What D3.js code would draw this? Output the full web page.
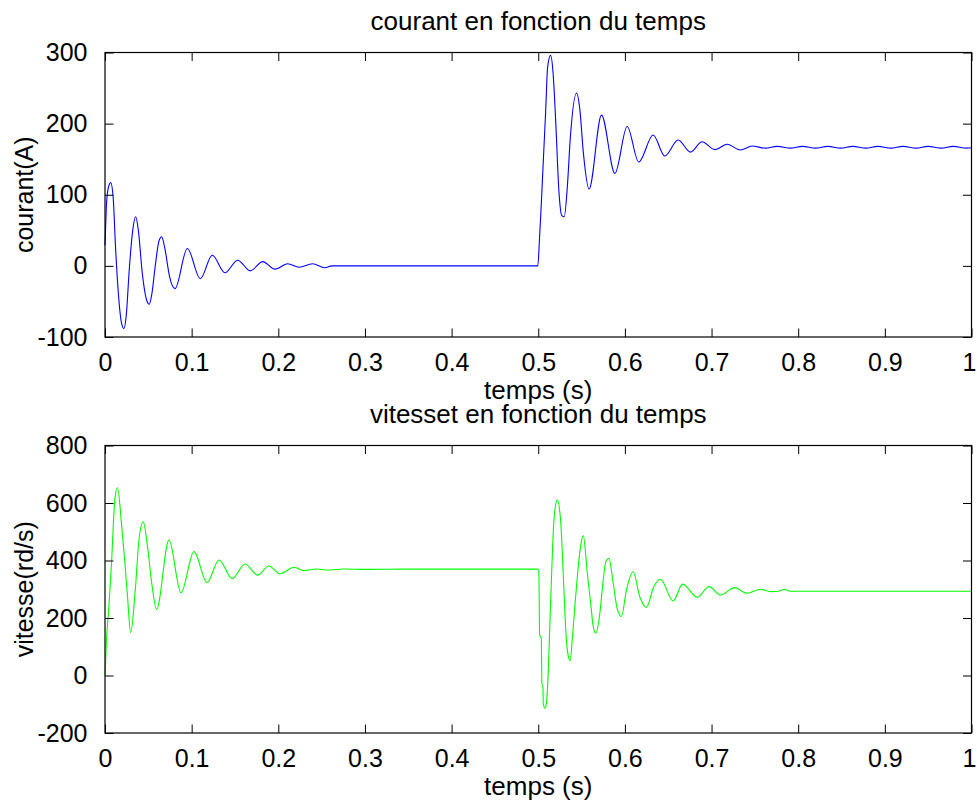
<!DOCTYPE html>
<html>
<head>
<meta charset="utf-8">
<script src="https://cdn.jsdelivr.net/npm/d3@7"></script>
<style>
  html, body { margin: 0; padding: 0; background: #fff; }
  svg { display: block; }
  text { font-family: "Liberation Sans", Arial, Helvetica, sans-serif; fill: #000; }
</style>
</head>
<body>
<svg id="fig" width="977" height="806"></svg>
<script>
// Motor current (A) against time (s)
const courantT = [0, 0.0015, 0.0035, 0.0066, 0.0095, 0.012, 0.0155, 0.019, 0.0219, 0.0245, 0.028, 0.032, 0.0354,
  0.0385, 0.043, 0.048, 0.0511, 0.054, 0.058, 0.0625, 0.0654, 0.069, 0.0745, 0.0808, 0.095, 0.110, 0.1238, 0.1384,
  0.153, 0.1677, 0.182, 0.1961, 0.2108, 0.224, 0.2396, 0.2538, 0.262, 0.4995,
  0.5015, 0.503, 0.5057, 0.5085, 0.5108, 0.5142, 0.5172, 0.52, 0.524, 0.527, 0.530, 0.5335, 0.537, 0.5442, 0.548,
  0.552, 0.5587, 0.573, 0.5885, 0.6026, 0.616, 0.6326, 0.646, 0.6614, 0.6757, 0.689, 0.7038, 0.718, 0.7333,
  0.747, 0.762, 0.776, 0.791, 0.805, 0.820, 0.834, 0.849, 0.863, 0.878, 0.892, 0.907, 0.921, 0.936, 0.950, 0.965,
  0.979, 0.994, 1.0];
const courantA = [29, 82, 108, 117, 95, 30, -40, -80, -88, -70, -5, 50, 69,
  50, -10, -48, -54, -40, 0, 36, 41, 25, -15, -32, 24.5, -18, 15, -9.7,
  8, -7, 6, -4.6, 3, -2, 3, -2.7, 0, 0,
  40, 74, 144, 216, 279, 296, 270, 207, 102, 71, 69, 110, 180, 243, 220,
  160, 108, 212, 130, 196, 146, 184, 154.5, 177, 160, 174.6, 163.4, 171, 163,
  168.5, 165.5, 168, 165.5, 168, 165.5, 168, 165.5, 168, 165.5, 168, 165.5, 168, 165.5, 168, 165.5,
  168, 165.5, 166];

// Rotor speed (rd/s) against time (s)
const vitesseT = [0, 0.0015, 0.0045, 0.0075, 0.0115, 0.0144, 0.019, 0.023, 0.026, 0.0296, 0.035, 0.0395, 0.0442,
  0.049, 0.054, 0.0596, 0.0738, 0.0877, 0.1027, 0.1177, 0.1315, 0.1469, 0.1615, 0.1762, 0.1892, 0.2019, 0.2184,
  0.2296, 0.244, 0.258, 0.275, 0.30, 0.35, 0.4992,
  0.5007, 0.5016, 0.5035, 0.5042, 0.5054, 0.5058, 0.5077, 0.5096, 0.5115, 0.5134, 0.5154, 0.5173, 0.5192, 0.5219,
  0.5258, 0.5277, 0.5296, 0.5315, 0.5338, 0.5367, 0.5398, 0.5425, 0.5456, 0.5483, 0.552, 0.5566, 0.5605, 0.5635,
  0.5664, 0.5711, 0.5742, 0.578, 0.5815, 0.5865, 0.591, 0.596, 0.6018, 0.6095, 0.6172, 0.6248, 0.6333, 0.6411,
  0.6557, 0.6665, 0.6834, 0.6972, 0.7103, 0.7268, 0.741, 0.7565, 0.769, 0.777, 0.7846, 0.790, 1.0];
const vitesseW = [0, 112, 240, 390, 617, 653, 530, 390, 274, 149, 300, 481, 535,
  450, 320, 230, 471.6, 288, 431, 323, 402, 337, 388, 349, 381, 354, 376.5,
  364.7, 370.5, 367, 370.5, 369, 370, 370,
  361, 141, 129, -27, -39, -97, -114, -91, 10, 176, 350, 500, 576, 611,
  541, 431, 298, 170, 83, 51.5, 147, 251, 361, 437, 486.6, 356, 251, 170,
  147, 216, 309, 396, 408, 321, 234, 205, 297.6, 361, 274, 237, 309, 335,
  259, 318, 272, 309, 280, 305.6, 286, 300, 291.6, 293, 300, 293, 293];

const timeTicks = [0, 0.1, 0.2, 0.3, 0.4, 0.5, 0.6, 0.7, 0.8, 0.9, 1];
const courantTicks = [-100, 0, 100, 200, 300];
const vitesseTicks = [-200, 0, 200, 400, 600, 800];

const svg = d3.select("#fig");
const FS = 25;       // tick labels
const FS_T = 26;     // titles and x-axis label
const TICK = 8.5;
const left = 105, right = 971.5;

const panels = [
  { top: 52.5, bottom: 337, domain: [-100, 300], ticks: courantTicks,
    t: courantT, v: courantA, color: "#0000ff",
    title: "courant en fonction du temps", ylabel: "courant(A)" },
  { top: 445.5, bottom: 733, domain: [-200, 800], ticks: vitesseTicks,
    t: vitesseT, v: vitesseW, color: "#00ff00",
    title: "vitesset en fonction du temps", ylabel: "vitesse(rd/s)" }
];

panels.forEach(p => {
  const x = d3.scaleLinear().domain([0, 1]).range([left, right]);
  const y = d3.scaleLinear().domain(p.domain).range([p.bottom, p.top]);
  const g = svg.append("g");

  // data line
  const pts = p.t.map((t, i) => [t, p.v[i]]);
  const line = d3.line().x(d => x(d[0])).y(d => y(d[1])).curve(d3.curveMonotoneX);
  g.append("path").datum(pts)
    .attr("d", line)
    .attr("fill", "none")
    .attr("stroke", p.color)
    .attr("stroke-width", 1.1)
    .attr("stroke-linejoin", "round");

  // axes: ticks point inward on all four sides
  const fmt = d => String(d);
  const axB = d3.axisBottom(x).tickValues(timeTicks).tickSize(-TICK).tickPadding(TICK + 8).tickFormat(fmt);
  const axT = d3.axisTop(x).tickValues(timeTicks).tickSize(-TICK).tickFormat("");
  const axL = d3.axisLeft(y).tickValues(p.ticks).tickSize(-TICK).tickPadding(TICK + 9).tickFormat(fmt);
  const axR = d3.axisRight(y).tickValues(p.ticks).tickSize(-TICK).tickFormat("");

  const gB = g.append("g").attr("transform", `translate(0,${p.bottom})`).call(axB);
  const gT = g.append("g").attr("transform", `translate(0,${p.top})`).call(axT);
  const gL = g.append("g").attr("transform", `translate(${left},0)`).call(axL);
  const gR = g.append("g").attr("transform", `translate(${right},0)`).call(axR);

  [gB, gT, gL, gR].forEach(a => {
    a.select(".domain").remove();
    a.selectAll("line").attr("stroke", "#000").attr("stroke-width", 1);
    a.selectAll("text").attr("font-size", FS).attr("font-family", "Liberation Sans, Arial, sans-serif").attr("fill", "#000");
  });
  gB.selectAll("text").attr("dy", "0.71em");
  // last label hugs the right edge of the figure
  gB.selectAll("text").filter(d => d === 1).attr("dx", "-0.1em");

  // box
  g.append("rect")
    .attr("x", left).attr("y", p.top)
    .attr("width", right - left).attr("height", p.bottom - p.top)
    .attr("fill", "none").attr("stroke", "#000").attr("stroke-width", 1.2);

  // titles and labels
  g.append("text").attr("x", (left + right) / 2).attr("y", p.top - 23)
    .attr("text-anchor", "middle").attr("font-size", FS_T).text(p.title);
  g.append("text").attr("x", (left + right) / 2).attr("y", p.bottom + 62)
    .attr("text-anchor", "middle").attr("font-size", FS_T).text("temps (s)");
  g.append("text")
    .attr("transform", `translate(33,${(p.top + p.bottom) / 2}) rotate(-90)`)
    .attr("text-anchor", "middle").attr("font-size", FS).text(p.ylabel);
});
</script>
</body>
</html>
